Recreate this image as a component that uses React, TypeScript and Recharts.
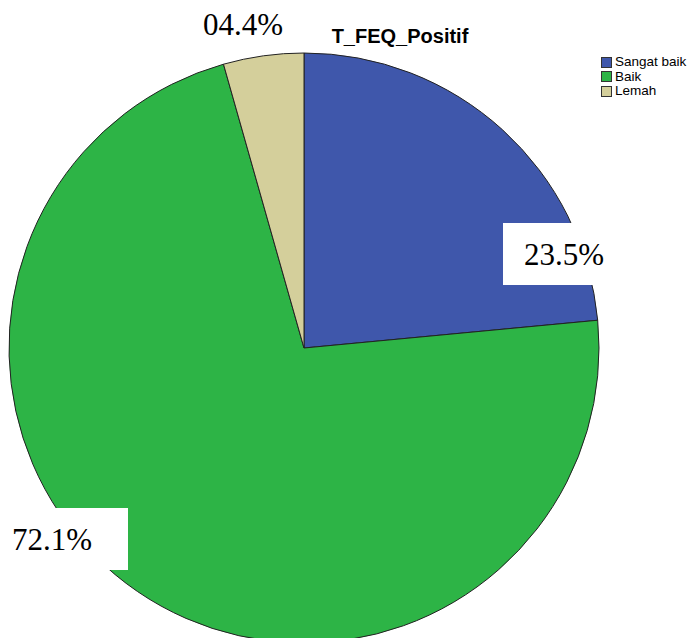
import React from "react";
import { PieChart, Pie, Cell, Legend } from "recharts";

const categories = ["Sangat baik", "Baik", "Lemah"];
const percents = [23.5, 72.1, 4.4];
const COLORS = ["#3f57ab", "#2db446", "#d4cf9b"];

// label placement relative to pie centre (SPSS puts them by hand)
const LABEL_OFFSETS = [
  { dx: 220, dy: -83, box: true },
  { dx: -292, dy: 202, box: true },
  { dx: -101, dy: -313, box: false },
];

const data = categories.map((name, i) => ({ name, value: percents[i] }));

const fmt = (v: number) => v.toFixed(1).padStart(4, "0") + "%";

const renderLabel = (props: any) => {
  const { cx, cy, index, value } = props;
  const o = LABEL_OFFSETS[index];
  const x = cx + o.dx;
  const y = cy + o.dy;
  return (
    <g key={`lbl-${index}`}>
      {o.box && <rect x={x - 21} y={y - 42} width={137} height={62} fill="#fff" />}
      <text
        x={x}
        y={y}
        fill="#000"
        fontFamily="Liberation Serif, Times New Roman, serif"
        fontSize={31}
        textAnchor="start"
      >
        {fmt(value)}
      </text>
    </g>
  );
};

const renderLegend = () => (
  <div style={{ fontFamily: "Liberation Sans, Arial, sans-serif", fontSize: 13.5, lineHeight: "14.5px", color: "#000" }}>
    {categories.map((c, i) => (
      <div key={c} style={{ display: "flex", alignItems: "center" }}>
        <span
          style={{
            display: "inline-block",
            width: 9,
            height: 9,
            background: COLORS[i],
            border: "1px solid #333",
            marginRight: 3,
          }}
        />
        {c}
      </div>
    ))}
  </div>
);

export default function App() {
  return (
    <div style={{ position: "absolute", left: 0, top: 0, width: 692, height: 638, background: "#fff", overflow: "hidden" }}>
      <div
        style={{
          position: "absolute",
          left: 300,
          width: 200,
          top: 25,
          textAlign: "center",
          fontFamily: "Liberation Sans, Arial, sans-serif",
          fontWeight: "bold",
          fontSize: 20,
          zIndex: 2,
        }}
      >
        T_FEQ_Positif
      </div>
      <PieChart width={692} height={638} margin={{ top: 0, right: 0, bottom: 0, left: 0 }}>
        <Pie
          data={data}
          dataKey="value"
          nameKey="name"
          cx={304}
          cy={348}
          outerRadius={295}
          startAngle={90}
          endAngle={-270}
          stroke="#222"
          strokeWidth={1}
          label={renderLabel}
          labelLine={false}
          isAnimationActive={false}
        >
          {data.map((entry, index) => (
            <Cell key={`cell-${index}`} fill={COLORS[index]} />
          ))}
        </Pie>
        <Legend
          content={renderLegend}
          wrapperStyle={{ position: "absolute", left: 601, top: 55, width: 95 }}
        />
      </PieChart>
    </div>
  );
}
